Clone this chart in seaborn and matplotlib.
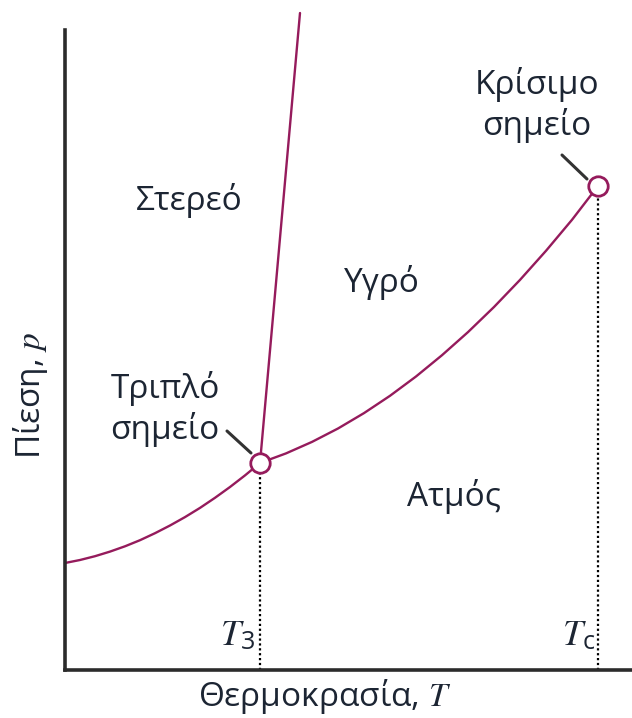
import matplotlib
matplotlib.use("Agg")
import matplotlib.pyplot as plt
import seaborn as sns
import pandas as pd

# Phase boundary curves (temperature, pressure in arbitrary units)
sub_T = [0, 15, 30, 45, 60, 75, 90, 105, 120, 135, 150, 165, 180, 195]
sub_p = [107, 110, 113.8, 118.4, 123.7, 129.8, 136.8, 144.5, 152.9, 162.1,
         172.2, 183, 194.6, 207]

vap_T = [195, 221, 247, 273, 299, 325, 351, 377, 403, 429, 455, 481, 507, 533]
vap_p = [207, 216.6, 228.1, 241.5, 256.9, 274.2, 293.5, 314.8, 337.9, 363,
         390.1, 419.2, 450.2, 484]

melt_T = [195, 235]
melt_p = [207, 657]

# Special points
triple = (195, 207)
critical = (533, 484)

# Region names
regions = ["Στερεό", "Υγρό", "Ατμός"]
region_T = [124, 317, 389]
region_p = [470, 388, 173]

sns.set_style("white")
plt.rcParams["font.family"] = ["Open Sans", "DejaVu Sans"]
plt.rcParams["mathtext.fontset"] = "custom"
plt.rcParams["mathtext.it"] = "STIXGeneral:italic"
plt.rcParams["mathtext.rm"] = "Open Sans"

curve_col = "#951b5c"
text_col = "#1c2533"
axis_col = "#2b2b2b"

fig = plt.figure(figsize=(6.32, 7.18), dpi=100)
ax = fig.add_axes([65 / 632, 48 / 718, 567 / 632, 640 / 718])
ax.set_xlim(0, 567)
ax.set_ylim(0, 640)

sub = pd.DataFrame({"T": sub_T, "p": sub_p})
vap = pd.DataFrame({"T": vap_T, "p": vap_p})
melt = pd.DataFrame({"T": melt_T, "p": melt_p})

for df in (sub, vap, melt):
    sns.lineplot(data=df, x="T", y="p", ax=ax, color=curve_col, lw=1.7,
                 sort=False, estimator=None)
for ln in ax.lines:
    ln.set_clip_on(False)
    ln.set_solid_joinstyle("round")

# Dotted drop lines to the temperature axis
for (t, p) in (triple, critical):
    ax.plot([t, t], [0, p - 10], color="black", ls=(0, (1, 1.2)), lw=1.6,
            clip_on=False, zorder=2)

# Circles at the triple and critical points
ax.plot([triple[0], critical[0]], [triple[1], critical[1]], "o", ms=14,
        mfc="white", mec=curve_col, mew=2, zorder=5, clip_on=False)

# Leader lines for the annotations
ax.plot([162, 186], [239, 217], color="#333333", lw=2.2, zorder=4)
ax.plot([497, 522], [515, 491], color="#333333", lw=2.2, zorder=4)

fs = 24
for name, t, p in zip(regions, region_T, region_p):
    ax.text(t, p, name, fontsize=fs, color=text_col, ha="center", va="center")

ax.text(100, 261, "Τριπλό\nσημείο", fontsize=fs, color=text_col,
        ha="center", va="center", linespacing=1.25)
ax.text(472, 565, "Κρίσιμο\nσημείο", fontsize=fs, color=text_col,
        ha="center", va="center", linespacing=1.25)

ax.text(190, 25, r"$T_{\mathrm{3}}$", fontsize=26, color=text_col,
        ha="right", va="baseline")
ax.text(530, 25, r"$T_{\mathrm{c}}$", fontsize=26, color=text_col,
        ha="right", va="baseline")

fig.text(325 / 632, 1 - 697 / 718, r"Θερμοκρασία, $T$", fontsize=fs,
         color=text_col, ha="center", va="center")
fig.text(30 / 632, 1 - 395 / 718, r"Πίεση, $p$", fontsize=fs,
         color=text_col, ha="center", va="center", rotation=90)

sns.despine(ax=ax)
for s in ("left", "bottom"):
    ax.spines[s].set_linewidth(2.6)
    ax.spines[s].set_color(axis_col)
ax.set_xticks([])
ax.set_yticks([])
ax.set_xlabel("")
ax.set_ylabel("")

fig.savefig("out.png", dpi=100)
